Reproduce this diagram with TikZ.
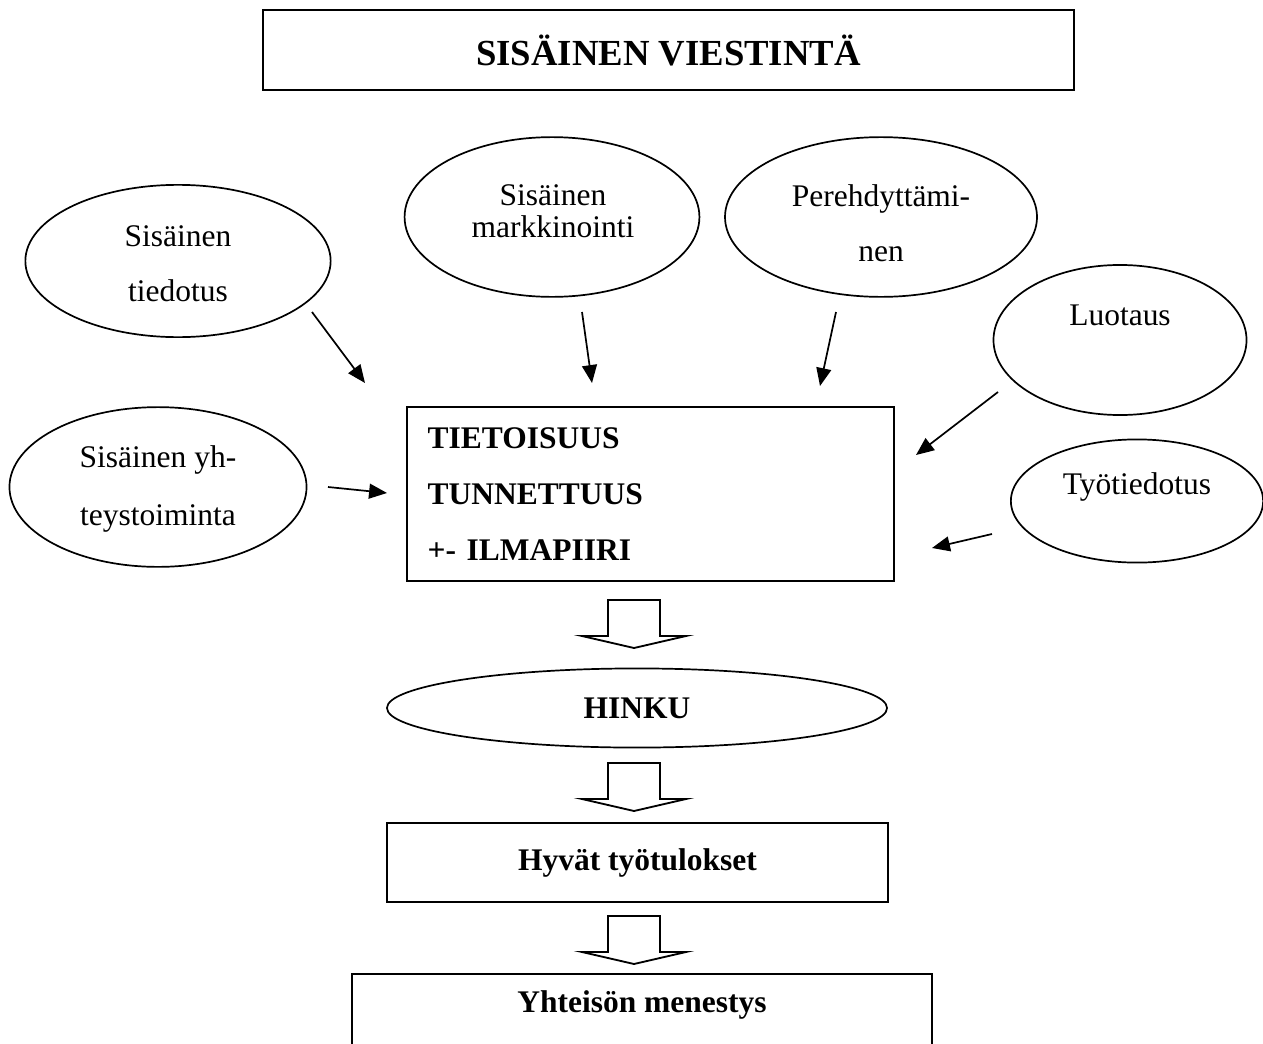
\documentclass[tikz,border=0pt]{standalone}
\usepackage{fontspec}
\setmainfont{Liberation Serif}
\usetikzlibrary{positioning}
\usetikzlibrary{shapes}
\usetikzlibrary{arrows.meta}
\tikzset{bubble/.style={shape=ellipse, draw=black, line width=0.65pt, inner sep=0pt},
  frame/.style={shape=rectangle, draw=black, line width=0.8pt, inner sep=0pt},
  bubbletext/.style={align=center, font=\fontsize{12}{21}\selectfont},
  boldtext/.style={font=\fontsize{12}{14}\selectfont\bfseries},
  feed/.style={-{Triangle[length=0.24cm, width=0.2cm]}, line width=0.65pt},
  hollowarrow/.pic={\draw[line width=0.7pt] (-26,0) -- (-26,-36) -- (-52,-36) -- (0,-48) -- (52,-36) -- (26,-36) -- (26,0) -- cycle;}}

\begin{document}
\begin{tikzpicture}[x=0.0134cm, y=0.0134cm]
    \useasboundingbox (0,0) rectangle (1263,1043);
    \clip (0,0) rectangle (1263,1043);
    \node[frame, minimum width=10.87cm, minimum height=1.07cm, font=\fontsize{14}{17}\selectfont\bfseries] (title) at (668.5,993) {SISÄINEN VIESTINTÄ};

    \node[bubble, minimum width=4.09cm, minimum height=2.04cm] (tiedotus) at (178,782) {};
    \node[bubbletext] (tiedotus-t) at (178,779) {Sisäinen\\tiedotus};
    \node[bubble, minimum width=3.95cm, minimum height=2.14cm] (markkinointi) at (552,826) {};
    \node[bubbletext, font=\fontsize{12}{12}\selectfont] (markkinointi-t) at (553,832) {Sisäinen\\markkinointi};
    \node[bubble, minimum width=4.18cm, minimum height=2.14cm] (perehdytys) at (881,826) {};
    \node[bubbletext] (perehdytys-t) at (881,820) {Perehdyttämi-\\nen};
    \node[bubble, minimum width=3.39cm, minimum height=2.01cm] (luotaus) at (1120,703) {};
    \node[bubbletext] (luotaus-t) at (1120,728) {Luotaus};
    \node[bubble, minimum width=3.98cm, minimum height=2.14cm] (yhteys) at (158,556) {};
    \node[bubbletext, font=\fontsize{12}{21.8}\selectfont] (yhteys-t) at (158,554) {Sisäinen yh-\\teystoiminta};
    \node[bubble, minimum width=3.38cm, minimum height=1.65cm] (tyotiedotus) at (1137,542) {};
    \node[bubbletext] (tyotiedotus-t) at (1137,556) {Työtiedotus};

    \node[frame, minimum height=2.33cm, text width=5.97cm, inner xsep=0.28cm, align=left, font=\fontsize{12}{21.3}\selectfont\bfseries] (tila) at (650.5,549) {TIETOISUUS\\TUNNETTUUS\\+- ILMAPIIRI};

    \coordinate (tiedotus-a) at (312,731);
    \coordinate (tila-a) at (365,660);
    \coordinate (markkinointi-a) at (582,731);
    \coordinate (tila-b) at (592,660);
    \coordinate (perehdytys-a) at (836,731);
    \coordinate (tila-c) at (820,657);
    \coordinate (luotaus-a) at (998,651);
    \coordinate (tila-d) at (916,588);
    \coordinate (yhteys-a) at (328,556);
    \coordinate (tila-e) at (387,550);
    \coordinate (tyotiedotus-a) at (992,509);
    \coordinate (tila-f) at (932,495);
    \draw[feed] (tiedotus-a) -- (tila-a);
    \draw[feed] (markkinointi-a) -- (tila-b);
    \draw[feed] (perehdytys-a) -- (tila-c);
    \draw[feed] (luotaus-a) -- (tila-d);
    \draw[feed] (yhteys-a) -- (tila-e);
    \draw[feed] (tyotiedotus-a) -- (tila-f);

    \pic at (634,443) {hollowarrow};
    \node[bubble, minimum width=6.70cm, minimum height=1.06cm, boldtext] (hinku) at (637,335) {HINKU};
    \pic at (634,280) {hollowarrow};
    \node[frame, minimum width=6.71cm, minimum height=1.06cm, boldtext] (tulokset) at (637.5,180.5) {Hyvät työtulokset};
    \pic at (634,127) {hollowarrow};
    \node[frame, minimum width=7.77cm, minimum height=1.4cm, anchor=north] (menestys) at (642,70) {};
    \node[boldtext] (menestys-t) at (642,38) {Yhteisön menestys};
  \end{tikzpicture}
\end{document}
